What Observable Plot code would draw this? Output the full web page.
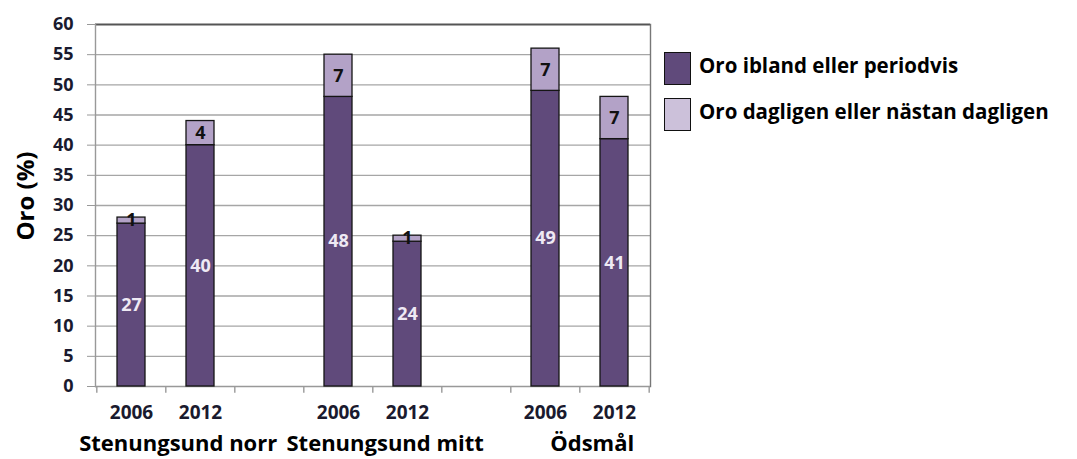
<!DOCTYPE html>
<html>
<head>
<meta charset="utf-8">
<script src="https://cdn.jsdelivr.net/npm/d3@7"></script>
<script src="https://cdn.jsdelivr.net/npm/@observablehq/plot@0.6"></script>
<style>
  html, body { margin: 0; padding: 0; background: #fff; }
  #wrap { position: relative; width: 1077px; height: 459px; font-family: "Open Sans", Lato, sans-serif; }
  #legend { position: absolute; left: 664px; top: 52px; font-weight: bold; font-size: 20.5px; color: #000; }
  .item { display: flex; align-items: center; height: 33px; margin-bottom: 13px; white-space: nowrap; }
  .item span { position: relative; top: -4px; }
  .sw { width: 25px; height: 31px; border: 1px solid #111; margin-right: 8px; flex: none; }
  #ytitle { position: absolute; left: 25px; top: 196px; transform: translate(-50%, -50%) rotate(-90deg);
    font-weight: bold; font-size: 24px; color: #000; white-space: nowrap; line-height: 1; }
</style>
</head>
<body>
<div id="wrap"></div>
<script>
// ---- data ----
const groups = ["Stenungsund norr", "Stenungsund mitt", "Ödsmål"];
const years = ["2006", "2012"];
const periodvis = [27, 40, 48, 24, 49, 41];   // Oro ibland eller periodvis
const dagligen = [1, 4, 7, 1, 7, 7];          // Oro dagligen eller nästan dagligen
const seriesNames = ["Oro ibland eller periodvis", "Oro dagligen eller nästan dagligen"];
const yTicks = [0, 5, 10, 15, 20, 25, 30, 35, 40, 45, 50, 55, 60];
const yTitle = "Oro (%)";

const darkColor = "#604A7B";
const lightColor = "#B3A2C7";
const legendLight = "#CCC1DA";

// slot keys: each group gets its years, with an empty slot between groups
const slots = [];
groups.forEach((g, gi) => {
  years.forEach(y => slots.push(g + "|" + y));
  if (gi < groups.length - 1) slots.push("gap" + gi);
});
const rows = [];
groups.forEach((g, gi) => years.forEach((y, yi) => {
  const i = gi * years.length + yi;
  rows.push({key: g + "|" + y, group: g, year: y, periodvis: periodvis[i], dagligen: dagligen[i]});
}));

const W = 1077, H = 459;
const mL = 95, mR = 427, mT = 24, mB = 73;
const step = (W - mL - mR) / slots.length;
const font = "'Open Sans', Lato, sans-serif";

const chart = Plot.plot({
  width: W, height: H,
  marginLeft: mL, marginRight: mR, marginTop: mT, marginBottom: mB,
  style: {fontFamily: font, background: "white", overflow: "visible"},
  x: {domain: slots, paddingInner: 0.6, paddingOuter: 0.3, axis: null},
  y: {domain: [0, 60], axis: null},
  marks: [
    // gridlines
    Plot.ruleY(yTicks.filter(t => t > 0 && t < 60), {stroke: "#A6A6A6", strokeWidth: 1.4}),
    Plot.ruleY([60], {stroke: "#555", strokeWidth: 2}),
    Plot.ruleY([0], {stroke: "#999", strokeWidth: 1.4}),
    Plot.frame({anchor: "left", stroke: "#999", strokeWidth: 1.4}),
    Plot.frame({anchor: "right", stroke: "#777", strokeWidth: 1.4}),
    // y axis
    Plot.axisY({ticks: yTicks, tickSize: 8, tickPadding: 14, stroke: "#999",
      fontSize: 18, fontWeight: "bold", fill: "#1a1a2e", label: null}),
    // x boundary ticks
    Plot.ruleX(slots, {x: d => d, dx: -step / 2, y1: 0, y2: -1.1, stroke: "#999", strokeWidth: 1.4}),
    Plot.ruleX([slots[slots.length - 1]], {x: d => d, dx: step / 2, y1: 0, y2: -1.1, stroke: "#999", strokeWidth: 1.4}),
    // year labels
    Plot.text(rows, {x: "key", frameAnchor: "bottom", dy: 32, text: "year",
      fontSize: 19, fontWeight: "bold", fill: "#1a1a2e"}),
    // group labels
    Plot.text(groups, {x: g => g + "|" + years[0], frameAnchor: "bottom", dx: step / 2 + 12, dy: 64, text: d => d,
      fontSize: 22, fontWeight: "bold", fill: "#000"}),
    // bars
    Plot.barY(rows, {x: "key", y1: 0, y2: "periodvis", fill: darkColor, stroke: "#151515", strokeWidth: 1.3}),
    Plot.barY(rows, {x: "key", y1: "periodvis", y2: d => d.periodvis + d.dagligen, fill: lightColor, stroke: "#151515", strokeWidth: 1.3}),
    // value labels
    Plot.text(rows, {x: "key", y: d => d.periodvis / 2, text: "periodvis",
      fontSize: 18, fontWeight: "bold", fill: "#EEE9F4"}),
    Plot.text(rows, {x: "key", y: d => d.periodvis + d.dagligen / 2, text: "dagligen",
      fontSize: 18, fontWeight: "bold", fill: "#111"})
  ]
});

const wrap = document.getElementById("wrap");
wrap.appendChild(chart);
const yt = document.createElement("div");
yt.id = "ytitle";
yt.textContent = yTitle;
wrap.appendChild(yt);
const legend = document.createElement("div");
legend.id = "legend";
[[seriesNames[0], darkColor], [seriesNames[1], legendLight]].forEach(([name, c]) => {
  const it = document.createElement("div");
  it.className = "item";
  const sw = document.createElement("div");
  sw.className = "sw";
  sw.style.background = c;
  const tx = document.createElement("span");
  tx.textContent = name;
  it.appendChild(sw); it.appendChild(tx);
  legend.appendChild(it);
});
wrap.appendChild(legend);
</script>
</body>
</html>
